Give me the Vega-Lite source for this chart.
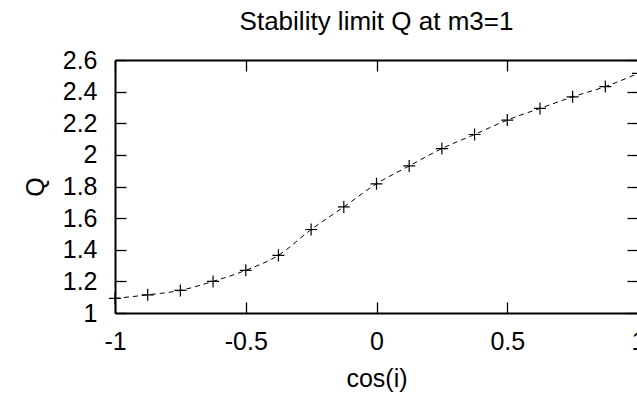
{
  "$schema": "https://vega.github.io/schema/vega-lite/v6.json",
  "autosize": "none",
  "padding": {"left": 115, "top": 60, "right": 0, "bottom": 84},
  "width": 523,
  "height": 253,
  "background": "white",
  "title": {"text": "Stability limit Q at m3=1", "fontSize": 26, "font": "Liberation Sans", "fontWeight": "normal", "color": "black", "anchor": "middle", "offset": 13},
  "config": {
    "view": {"stroke": null},
    "axis": {"labelFont": "Liberation Sans", "titleFont": "Liberation Sans", "labelFontSize": 25, "titleFontSize": 25, "titleFontWeight": "normal", "labelColor": "black", "titleColor": "black", "domainColor": "black", "domainWidth": 2, "tickColor": "black", "tickWidth": 1.3, "grid": false, "labelExpr": "'' + datum.value"}
  },
  "data": {"values": [
    {"c": -1, "q": 1.092},
    {"c": -0.875, "q": 1.115},
    {"c": -0.75, "q": 1.143},
    {"c": -0.625, "q": 1.2},
    {"c": -0.5, "q": 1.27},
    {"c": -0.375, "q": 1.365},
    {"c": -0.25, "q": 1.528},
    {"c": -0.125, "q": 1.671},
    {"c": 0, "q": 1.817},
    {"c": 0.125, "q": 1.93},
    {"c": 0.25, "q": 2.04},
    {"c": 0.375, "q": 2.129},
    {"c": 0.5, "q": 2.22},
    {"c": 0.625, "q": 2.294},
    {"c": 0.75, "q": 2.367},
    {"c": 0.875, "q": 2.432},
    {"c": 1, "q": 2.515}
  ]},
  "layer": [
    {"mark": {"type": "line", "color": "black", "strokeWidth": 1, "strokeDash": [5, 4], "interpolate": "monotone", "clip": true},
      "encoding": {
        "x": {"field": "c", "type": "quantitative", "scale": {"domain": [-1, 1], "nice": false, "zero": false},
          "axis": {"title": "cos(i)", "values": [-1, -0.5, 0, 0.5, 1], "tickSize": -11, "labelPadding": 27, "titlePadding": 12, "labelFlush": false, "labelOverlap": false}},
        "y": {"field": "q", "type": "quantitative", "scale": {"domain": [1, 2.6], "nice": false, "zero": false},
          "axis": {"title": "Q", "values": [1, 1.2, 1.4, 1.6, 1.8, 2, 2.2, 2.4, 2.6], "tickSize": -11, "labelPadding": 29, "titlePadding": 14, "labelFlush": false, "labelOverlap": false}}
      }},
    {"mark": {"type": "point", "shape": "M-1,0L1,0M0,-1L0,1", "size": 144, "filled": false, "stroke": "black", "strokeWidth": 1.2, "opacity": 1},
      "encoding": {
        "x": {"field": "c", "type": "quantitative", "axis": null},
        "y": {"field": "q", "type": "quantitative", "axis": null}
      }},
    {"mark": {"type": "point", "opacity": 0},
      "encoding": {
        "x": {"field": "c", "type": "quantitative",
          "axis": {"orient": "top", "title": null, "labels": false, "values": [-1, -0.5, 0, 0.5, 1], "tickSize": -11}},
        "y": {"field": "q", "type": "quantitative",
          "axis": {"orient": "right", "title": null, "labels": false, "values": [1, 1.2, 1.4, 1.6, 1.8, 2, 2.2, 2.4, 2.6], "tickSize": -11}}
      }}
  ],
  "resolve": {"axis": {"x": "independent", "y": "independent"}}
}
